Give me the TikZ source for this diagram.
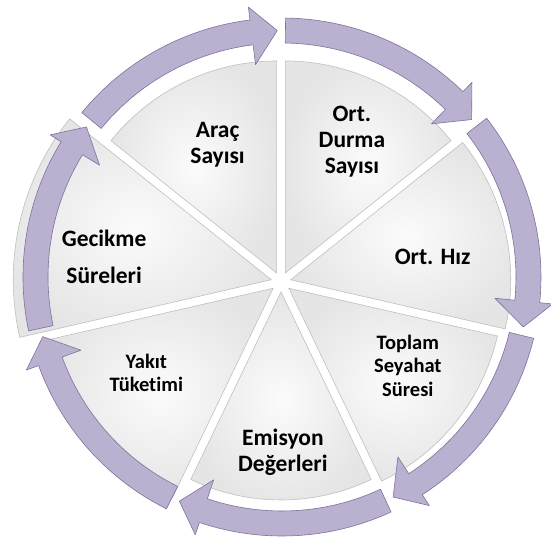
\documentclass[tikz,border=0pt]{standalone}
\usepackage{fontspec}
\setmainfont{Carlito}[Ligatures=NoCommon]
\definecolor{arrowfill}{RGB}{186,176,208}
\definecolor{arrowedge}{RGB}{126,114,156}
\begin{document}
\begin{tikzpicture}[x=1pt, y=1pt,
    wedge/.style={draw=gray!50, line width=0.6pt, inner color=gray!3, outer color=gray!20},
    cyclearrow/.style={fill=arrowfill, draw=arrowedge, line width=0.6pt, line join=round},
    itemtext/.style={align=center, text=black, font=\bfseries\fontsize{23.5}{26}\selectfont},
    smalltext/.style={itemtext, font=\bfseries\fontsize{20.5}{23.5}\selectfont}]
  \useasboundingbox (-282,-275) rectangle (268,277);
  % pie segments, pulled apart a little
  \begin{scope}[shift={(-1,-5)}]
    \draw[wedge, shift={(115.7:10)}] (0,0) -- (90:212) arc[start angle=90, end angle=141.4, radius=212] -- cycle;
    \draw[wedge, shift={(64.3:10)}] (0,0) -- (38.6:212) arc[start angle=38.6, end angle=90, radius=212] -- cycle;
    \draw[wedge, shift={(12.9:10)}] (0,0) -- (-12.9:220) arc[start angle=-12.9, end angle=38.6, radius=220] -- cycle;
    \draw[wedge, shift={(-38.6:10)}] (0,0) -- (-64.3:214) arc[start angle=-64.3, end angle=-12.9, radius=214] -- cycle;
    \draw[wedge, shift={(-90:10)}] (0,0) -- (-115.7:208) arc[start angle=-115.7, end angle=-64.3, radius=208] -- cycle;
    \draw[wedge, shift={(-141.4:10)}] (0,0) -- (-167.1:232) arc[start angle=-167.1, end angle=-115.7, radius=232] -- cycle;
    \draw[wedge, shift={(167.1:10)}] (0,0) -- (141.4:258) arc[start angle=141.4, end angle=192.9, radius=258] -- cycle;
  \end{scope}
  % ring of arrows
  \draw[cyclearrow] (140.6:234) arc[start angle=140.6, end angle=97.1, radius=234] -- (97.1:214) -- (91.1:246.5) -- (97.1:272) -- (97.1:259) arc[start angle=97.1, end angle=140.6, radius=259] -- cycle;
  \draw[cyclearrow] (89.2:234) arc[start angle=89.2, end angle=45.7, radius=234] -- (45.7:214) -- (39.7:246.5) -- (45.7:272) -- (45.7:259) arc[start angle=45.7, end angle=89.2, radius=259] -- cycle;
  \draw[cyclearrow] (37.8:234) arc[start angle=37.8, end angle=-5.7, radius=234] -- (-5.7:214) -- (-11.7:246.5) -- (-5.7:272) -- (-5.7:259) arc[start angle=-5.7, end angle=37.8, radius=259] -- cycle;
  \draw[cyclearrow] (-13.7:234) arc[start angle=-13.7, end angle=-57.2, radius=234] -- (-57.2:214) -- (-63.2:246.5) -- (-57.2:272) -- (-57.2:259) arc[start angle=-57.2, end angle=-13.7, radius=259] -- cycle;
  \draw[cyclearrow] (-65.1:234) arc[start angle=-65.1, end angle=-108.6, radius=234] -- (-108.6:214) -- (-114.6:246.5) -- (-108.6:272) -- (-108.6:259) arc[start angle=-108.6, end angle=-65.1, radius=259] -- cycle;
  \draw[cyclearrow] (-116.5:234) arc[start angle=-116.5, end angle=-160, radius=234] -- (-160:214) -- (-166:246.5) -- (-160:272) -- (-160:259) arc[start angle=-160, end angle=-116.5, radius=259] -- cycle;
  \draw[cyclearrow] (192:234) arc[start angle=192, end angle=148.5, radius=234] -- (148.5:214) -- (142.5:246.5) -- (148.5:272) -- (148.5:259) arc[start angle=148.5, end angle=192, radius=259] -- cycle;
  % labels
  \path
    (116:147) node[itemtext] (arac) {Araç\\Sayısı}
    (62.6:152) node[itemtext] (durma) {Ort.\\Durma\\Sayısı}
    (7.5:152) node[itemtext] (hiz) {Ort. Hız}
    (-35.2:154) node[smalltext] (toplam) {Toplam\\Seyahat\\Süresi}
    (-89.7:175) node[itemtext] (emisyon) {Emisyon\\Değerleri}
    (215.2:166) node[smalltext] (yakit) {Yakıt\\Tüketimi}
    (173.6:179) node[itemtext, font=\bfseries\fontsize{23.5}{37}\selectfont] (gecikme) {Gecikme\\Süreleri};
\end{tikzpicture}
\end{document}
